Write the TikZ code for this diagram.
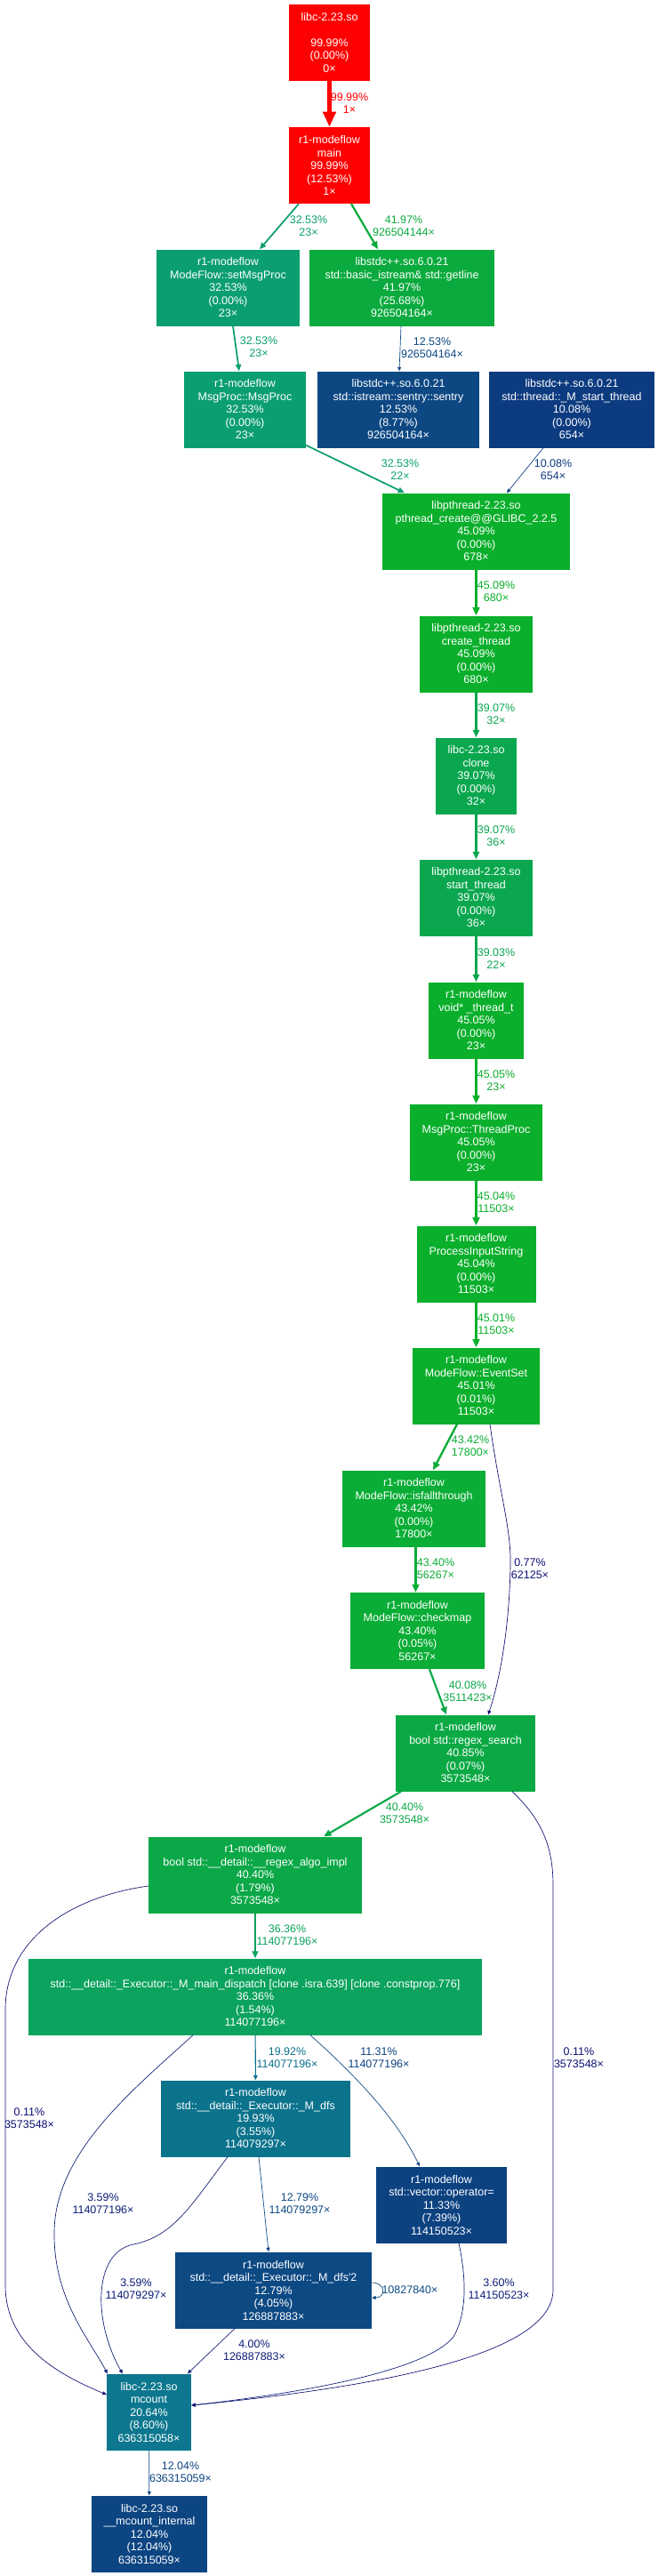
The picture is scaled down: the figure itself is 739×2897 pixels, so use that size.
\documentclass[tikz,border=0pt]{standalone}
\usepackage{fontspec}
\newfontfamily\gvfont{Liberation Sans}
\usetikzlibrary{arrows.meta}
\definecolor{cRed}{HTML}{FF0000}
\definecolor{cSet}{HTML}{0B9E71}
\definecolor{cGetl}{HTML}{0BAA3E}
\definecolor{cSentry}{HTML}{0D4883}
\definecolor{cThread}{HTML}{0D3B80}
\definecolor{cPthr}{HTML}{0AAF2B}
\definecolor{cClone}{HTML}{0BA74F}
\definecolor{cIsfall}{HTML}{0AAD35}
\definecolor{cSearch}{HTML}{0BA944}
\definecolor{cAlgo}{HTML}{0BA847}
\definecolor{cDisp}{HTML}{0BA35E}
\definecolor{cDfs}{HTML}{0C738D}
\definecolor{cMcount}{HTML}{0C778E}
\definecolor{cVec}{HTML}{0D4281}
\definecolor{cDfsTwo}{HTML}{0D4983}
\definecolor{cMint}{HTML}{0D4582}
\definecolor{cLow}{HTML}{0D1074}
\definecolor{cLowA}{HTML}{0D1C77}
\tikzset{
  fn/.style={rectangle,fill=#1,text=white,align=center,inner sep=0pt,
             minimum height=86pt,font=\gvfont\fontsize{12.5}{14.5}\selectfont},
  lbl/.style={align=center,inner sep=0pt,text=#1,
              font=\gvfont\fontsize{12.5}{14}\selectfont},
  call/.style={draw=#1,-{Triangle[length=2.7pt 2.7,width=2.6pt 2.15]}},
  pw/.style={line width=#1pt}
}
\begin{document}
\begin{tikzpicture}[x=1pt,y=-1pt]
  \fill[white] (0,0) rectangle (739,2897);
  \useasboundingbox (0,0) rectangle (739,2897);

  % Entry and main
  \node[fn=cRed,minimum width=91pt] (start) at (370.5,48)
      {libc-2.23.so\\\mbox{}\\99.99\%\\(0.00\%)\\0×};
  \node[fn=cRed,minimum width=91pt] (main) at (370.5,186)
      {r1-modeflow\\main\\99.99\%\\(12.53\%)\\1×};

  % Second and third rows
  \node[fn=cSet,minimum width=161pt] (setmsg) at (256.5,323.5)
      {r1-modeflow\\ModeFlow::setMsgProc\\32.53\%\\(0.00\%)\\23×};
  \node[fn=cGetl,minimum width=208pt] (getline) at (452,323.5)
      {libstdc++.so.6.0.21\\std::basic\_istream\& std::getline\\41.97\%\\(25.68\%)\\926504164×};
  \node[fn=cSet,minimum width=137pt] (msgproc) at (275.5,460.5)
      {r1-modeflow\\MsgProc::MsgProc\\32.53\%\\(0.00\%)\\23×};
  \node[fn=cSentry,minimum width=182pt] (sentry) at (448,460.5)
      {libstdc++.so.6.0.21\\std::istream::sentry::sentry\\12.53\%\\(8.77\%)\\926504164×};
  \node[fn=cThread,minimum width=186pt] (mstart) at (643,460.5)
      {libstdc++.so.6.0.21\\std::thread::\_M\_start\_thread\\10.08\%\\(0.00\%)\\654×};

  % Thread chain
  \node[fn=cPthr,minimum width=211pt] (pthread) at (535.5,597.5)
      {libpthread-2.23.so\\pthread\_create@@GLIBC\_2.2.5\\45.09\%\\(0.00\%)\\678×};
  \node[fn=cPthr,minimum width=127pt] (create) at (535.5,735.5)
      {libpthread-2.23.so\\create\_thread\\45.09\%\\(0.00\%)\\680×};
  \node[fn=cClone,minimum width=91pt] (clone) at (535.5,872.5)
      {libc-2.23.so\\clone\\39.07\%\\(0.00\%)\\32×};
  \node[fn=cClone,minimum width=127pt] (startth) at (535.5,1009.5)
      {libpthread-2.23.so\\start\_thread\\39.07\%\\(0.00\%)\\36×};
  \node[fn=cPthr,minimum width=107pt] (threadt) at (535.5,1147.5)
      {r1-modeflow\\void* \_thread\_t\\45.05\%\\(0.00\%)\\23×};
  \node[fn=cPthr,minimum width=149pt] (tproc) at (535.5,1284.5)
      {r1-modeflow\\MsgProc::ThreadProc\\45.05\%\\(0.00\%)\\23×};
  \node[fn=cPthr,minimum width=134pt] (pis) at (535.5,1421.5)
      {r1-modeflow\\ProcessInputString\\45.04\%\\(0.00\%)\\11503×};
  \node[fn=cPthr,minimum width=143pt] (evset) at (535.5,1558.5)
      {r1-modeflow\\ModeFlow::EventSet\\45.01\%\\(0.01\%)\\11503×};
  \node[fn=cIsfall,minimum width=161pt] (isfall) at (465.5,1696.5)
      {r1-modeflow\\ModeFlow::isfallthrough\\43.42\%\\(0.00\%)\\17800×};
  \node[fn=cIsfall,minimum width=151pt] (checkmap) at (469.5,1834)
      {r1-modeflow\\ModeFlow::checkmap\\43.40\%\\(0.05\%)\\56267×};

  % Regex part
  \node[fn=cSearch,minimum width=157pt] (rsearch) at (523.5,1971.5)
      {r1-modeflow\\bool std::regex\_search\\40.85\%\\(0.07\%)\\3573548×};
  \node[fn=cAlgo,minimum width=240pt] (ralgo) at (287,2108.5)
      {r1-modeflow\\bool std::\_\_detail::\_\_regex\_algo\_impl\\40.40\%\\(1.79\%)\\3573548×};
  \node[fn=cDisp,minimum width=510pt] (dispatch) at (287,2245.5)
      {r1-modeflow\\std::\_\_detail::\_Executor::\_M\_main\_dispatch [clone .isra.639] [clone .constprop.776]\\36.36\%\\(1.54\%)\\114077196×};
  \node[fn=cDfs,minimum width=213pt] (dfs) at (287.5,2382.5)
      {r1-modeflow\\std::\_\_detail::\_Executor::\_M\_dfs\\19.93\%\\(3.55\%)\\114079297×};
  \node[fn=cVec,minimum width=147pt] (vector) at (496.5,2479.5)
      {r1-modeflow\\std::vector::operator=\\11.33\%\\(7.39\%)\\114150523×};
  \node[fn=cDfsTwo,minimum width=221pt] (dfstwo) at (307.5,2575.5)
      {r1-modeflow\\std::\_\_detail::\_Executor::\_M\_dfs'2\\12.79\%\\(4.05\%)\\126887883×};
  \node[fn=cMcount,minimum width=95pt] (mcount) at (167.5,2712.5)
      {libc-2.23.so\\mcount\\20.64\%\\(8.60\%)\\636315058×};
  \node[fn=cMint,minimum width=130pt] (mcint) at (168,2849.5)
      {libc-2.23.so\\\_\_mcount\_internal\\12.04\%\\(12.04\%)\\636315059×};

  % Calls
  \draw[call=cRed,pw=5.33] (start) -- (main);
  \draw[call=cSet,pw=1.73] ([xshift=-34.5pt]main.south) -- ([xshift=35.5pt]setmsg.north);
  \draw[call=cGetl,pw=2.24] ([xshift=24.5pt]main.south) -- ([xshift=-27pt]getline.north);
  \draw[call=cSet,pw=1.73] ([xshift=5.5pt]setmsg.south) -- ([xshift=-6.5pt]msgproc.north);
  \draw[call=cSentry,pw=0.67] ([xshift=-1pt]getline.south) -- ([xshift=1pt]sentry.north);
  \draw[call=cSet,pw=1.73] ([yshift=3pt]msgproc.south east) -- ([xshift=-80.5pt]pthread.north);
  \draw[call=cThread,pw=0.67] ([xshift=-32pt]mstart.south) -- ([xshift=34.5pt]pthread.north);
  \draw[call=cPthr,pw=2.4] (pthread) -- (create);
  \draw[call=cClone,pw=2.08] (create) -- (clone);
  \draw[call=cClone,pw=2.08] (clone) -- (startth);
  \draw[call=cClone,pw=2.08] (startth) -- (threadt);
  \draw[call=cPthr,pw=2.4] (threadt) -- (tproc);
  \draw[call=cPthr,pw=2.4] (tproc) -- (pis);
  \draw[call=cPthr,pw=2.4] (pis) -- (evset);
  \draw[call=cIsfall,pw=2.31] ([xshift=-21.5pt]evset.south) -- ([xshift=21.5pt]isfall.north);
  \draw[call=cLow,pw=0.67] ([xshift=15.5pt]evset.south)
      .. controls (562,1680) and (575,1720) .. (574,1760)
      .. controls (573,1830) and (562,1890) .. ([xshift=25.5pt]rsearch.north);
  \draw[call=cIsfall,pw=2.31] ([xshift=2pt]isfall.south) -- ([xshift=-2pt]checkmap.north);
  \draw[call=cAlgo,pw=2.15] ([xshift=13.5pt]checkmap.south) -- ([xshift=-21.5pt]rsearch.north);
  \draw[call=cAlgo,pw=2.15] ([xshift=-72.5pt]rsearch.south) -- ([xshift=77pt]ralgo.north);
  \draw[call=cLow,pw=0.67] ([xshift=52.5pt]rsearch.south)
      .. controls (608,2045) and (622,2075) .. (622,2120) -- (622,2575)
      .. controls (622,2640) and (470,2680) .. ([yshift=7.5pt]mcount.east);
  \draw[call=cDisp,pw=1.94] (ralgo) -- (dispatch);
  \draw[call=cLow,pw=0.67] ([yshift=-12.5pt]ralgo.west)
      .. controls (80,2133) and (6,2180) .. (6,2260) -- (6,2570)
      .. controls (6,2640) and (70,2672) .. ([yshift=19.5pt]mcount.west);
  \draw[call=cDfs,pw=1.06] (dispatch) -- (dfs);
  \draw[call=cVec,pw=0.67] ([xshift=62pt]dispatch.south)
      .. controls (395,2330) and (445,2380) .. ([xshift=-24.5pt]vector.north);
  \draw[call=cLowA,pw=0.67] ([xshift=-70pt]dispatch.south)
      .. controls (150,2350) and (62,2420) .. (61,2510)
      .. controls (60,2585) and (100,2630) .. ([xshift=1pt]mcount.north west);
  \draw[call=cLowA,pw=0.67] ([xshift=-31.5pt]dfs.south)
      .. controls (215,2480) and (195,2515) .. (150,2524)
      .. controls (105,2533) and (104,2610) .. ([xshift=18pt]mcount.north west);
  \draw[call=cDfsTwo,pw=0.68] ([xshift=3.5pt]dfs.south) -- ([xshift=-5.5pt]dfstwo.north);
  \draw[call=cDfsTwo,pw=0.67] ([yshift=8.5pt]dfstwo.east) to[out=0,in=0,looseness=2.4]
      ([yshift=-8.5pt]dfstwo.east);
  \draw[call=cLowA,pw=0.67] ([xshift=-43.5pt]dfstwo.south) -- ([xshift=43.5pt]mcount.north);
  \draw[call=cLowA,pw=0.67] ([xshift=19.5pt]vector.south)
      .. controls (524,2560) and (526,2600) .. (510,2628)
      .. controls (480,2665) and (350,2690) .. ([yshift=7.5pt]mcount.east);
  \draw[call=cMint,pw=0.67] (mcount) -- (mcint);

  % Call labels
  \node[lbl=cRed] (l1) at (393,116) {99.99\%\\1×};
  \node[lbl=cSet] (l2) at (347,254) {32.53\%\\23×};
  \node[lbl=cGetl] (l3) at (454,254) {41.97\%\\926504144×};
  \node[lbl=cSet] (l4) at (291,390.5) {32.53\%\\23×};
  \node[lbl=cSentry] (l5) at (486,391) {12.53\%\\926504164×};
  \node[lbl=cSet] (l6) at (450,528) {32.53\%\\22×};
  \node[lbl=cThread] (l7) at (622,528) {10.08\%\\654×};
  \node[lbl=cPthr] (l8) at (558,665) {45.09\%\\680×};
  \node[lbl=cClone] (l9) at (558,803) {39.07\%\\32×};
  \node[lbl=cClone] (l10) at (558,940) {39.07\%\\36×};
  \node[lbl=cClone] (l11) at (558,1078) {39.03\%\\22×};
  \node[lbl=cPthr] (l12) at (558,1215) {45.05\%\\23×};
  \node[lbl=cPthr] (l13) at (558,1352) {45.04\%\\11503×};
  \node[lbl=cPthr] (l14) at (558,1489) {45.01\%\\11503×};
  \node[lbl=cIsfall] (l15) at (529,1626.5) {43.42\%\\17800×};
  \node[lbl=cLow] (l16) at (596,1764) {0.77\%\\62125×};
  \node[lbl=cIsfall] (l17) at (490,1764) {43.40\%\\56267×};
  \node[lbl=cAlgo] (l18) at (526,1902) {40.08\%\\3511423×};
  \node[lbl=cAlgo] (l19) at (455,2039) {40.40\%\\3573548×};
  \node[lbl=cLow] (l20) at (651,2314) {0.11\%\\3573548×};
  \node[lbl=cDisp] (l21) at (323,2176) {36.36\%\\114077196×};
  \node[lbl=cLow] (l22) at (33,2382) {0.11\%\\3573548×};
  \node[lbl=cDfs] (l23) at (323,2314) {19.92\%\\114077196×};
  \node[lbl=cVec] (l24) at (426,2314) {11.31\%\\114077196×};
  \node[lbl=cLowA] (l25) at (116,2478) {3.59\%\\114077196×};
  \node[lbl=cLowA] (l26) at (153,2574) {3.59\%\\114079297×};
  \node[lbl=cDfsTwo] (l27) at (337,2478) {12.79\%\\114079297×};
  \node[lbl=cDfsTwo] (l28) at (461,2575) {10827840×};
  \node[lbl=cLowA] (l29) at (286,2643) {4.00\%\\126887883×};
  \node[lbl=cLowA] (l30) at (561,2574) {3.60\%\\114150523×};
  \node[lbl=cMint] (l31) at (203,2780.5) {12.04\%\\636315059×};

\end{tikzpicture}
\end{document}
